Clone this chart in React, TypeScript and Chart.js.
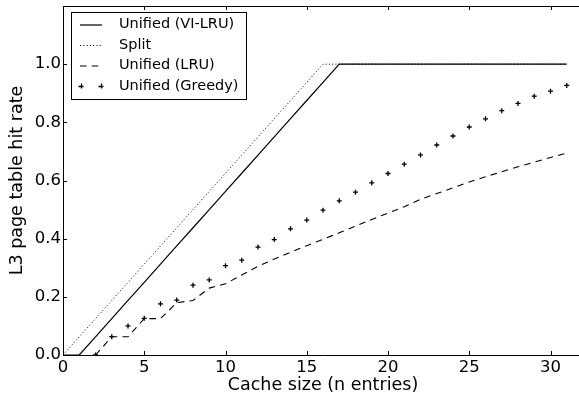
import React, { useEffect, useRef } from "react";
import { Chart, registerables } from "chart.js";

Chart.register(...registerables);

const cacheSizes = [0, 1, 2, 3, 4, 5, 6, 7, 8, 9, 10, 11, 12, 13, 14, 15, 16, 17, 18, 19, 20, 21, 22, 23, 24, 25, 26, 27, 28, 29, 30, 31];

const viLru = [0, 0, 0.0625, 0.125, 0.1875, 0.25, 0.3125, 0.375, 0.4375, 0.5, 0.5625, 0.625, 0.6875, 0.75, 0.8125, 0.875, 0.9375, 1, 1, 1, 1, 1, 1, 1, 1, 1, 1, 1, 1, 1, 1, 1];

const split = [0, 0.0625, 0.125, 0.1875, 0.25, 0.3125, 0.375, 0.4375, 0.5, 0.5625, 0.625, 0.6875, 0.75, 0.8125, 0.875, 0.9375, 1, 1, 1, 1, 1, 1, 1, 1, 1, 1, 1, 1, 1, 1, 1, 1];

const lru = [null, null, 0, 0.0625, 0.0625, 0.125, 0.125, 0.18, 0.1875, 0.23, 0.245, 0.275, 0.305, 0.33, 0.353, 0.376, 0.398, 0.42, 0.443, 0.466, 0.488, 0.51, 0.535, 0.555, 0.575, 0.595, 0.613, 0.63, 0.647, 0.663, 0.679, 0.694];

const greedy = [null, null, 0, 0.063, 0.1, 0.126, 0.176, 0.189, 0.24, 0.258, 0.307, 0.326, 0.371, 0.397, 0.434, 0.464, 0.498, 0.53, 0.56, 0.592, 0.624, 0.656, 0.688, 0.722, 0.753, 0.784, 0.812, 0.84, 0.865, 0.89, 0.907, 0.927];

const seriesLabels = ["Unified (VI-LRU)", "Split", "Unified (LRU)", "Unified (Greedy)"];

const xTicks = [0, 5, 10, 15, 20, 25, 30];
const yTicks = [0, 0.2, 0.4, 0.6, 0.8, 1.0];

const FONT = "DejaVu Sans";

const toPoints = (vals: (number | null)[]) =>
  cacheSizes.map((x, i) => ({ x, y: vals[i] }));

const frameAndLegend = {
  id: "frameAndLegend",
  afterDraw(chart: any) {
    const ctx = chart.ctx;
    const { left, right, top, bottom } = chart.chartArea;
    const xs = chart.scales.x;
    const ys = chart.scales.y;
    ctx.save();
    ctx.strokeStyle = "#000";
    ctx.lineWidth = 1;
    ctx.beginPath();
    ctx.moveTo(left, Math.round(top) + 0.5);
    ctx.lineTo(right, Math.round(top) + 0.5);
    ctx.moveTo(Math.round(right) - 0.5, top);
    ctx.lineTo(Math.round(right) - 0.5, bottom);
    ctx.stroke();
    const tl = 4;
    ctx.beginPath();
    xTicks.forEach((v) => {
      const px = Math.round(xs.getPixelForValue(v)) + 0.5;
      ctx.moveTo(px, bottom);
      ctx.lineTo(px, bottom - tl);
      ctx.moveTo(px, top);
      ctx.lineTo(px, top + tl);
    });
    yTicks.forEach((v) => {
      const py = Math.round(ys.getPixelForValue(v)) + 0.5;
      ctx.moveTo(left, py);
      ctx.lineTo(left + tl, py);
      ctx.moveTo(right, py);
      ctx.lineTo(right - tl, py);
    });
    ctx.stroke();

    const bx = 71.5, by = 12.5, bw = 175, bh = 87;
    ctx.fillStyle = "#fff";
    ctx.fillRect(bx, by, bw, bh);
    ctx.strokeRect(bx, by, bw, bh);
    const rows = [24.5, 45, 65.5, 86];
    const x0 = 80, x1 = 102;
    chart.data.datasets.forEach((ds: any, i: number) => {
      const y = rows[i];
      ctx.strokeStyle = "#000";
      ctx.lineWidth = 1;
      if (ds.showLine === false) {
        ctx.lineWidth = 1.3;
        [x0 + 1, x1 - 1].forEach((cx) => {
          ctx.beginPath();
          ctx.moveTo(cx - 2.5, y + 0.5);
          ctx.lineTo(cx + 2.5, y + 0.5);
          ctx.moveTo(cx + 0.5, y - 2.5);
          ctx.lineTo(cx + 0.5, y + 2.5);
          ctx.stroke();
        });
      } else {
        ctx.lineWidth = ds.borderWidth || 1;
        ctx.setLineDash(ds.borderDash || []);
        ctx.beginPath();
        ctx.moveTo(x0, y + 0.5);
        ctx.lineTo(x1, y + 0.5);
        ctx.stroke();
        ctx.setLineDash([]);
      }
      ctx.fillStyle = "#000";
      ctx.font = `14.5px "${FONT}"`;
      ctx.textBaseline = "middle";
      ctx.textAlign = "left";
      ctx.fillText(ds.label, 119, y);
    });
    ctx.restore();
  },
};

const zeroPadding = (s: any) => {
  s.paddingTop = 0;
  s.paddingBottom = 0;
  s.paddingLeft = 0;
  s.paddingRight = 0;
};

export default function App() {
  const ref = useRef<HTMLCanvasElement | null>(null);
  useEffect(() => {
    if (!ref.current) return;
    Chart.defaults.font.family = FONT;
    const chart = new Chart(ref.current, {
      type: "line",
      data: {
        datasets: [
          {
            label: seriesLabels[0],
            data: toPoints(viLru),
            borderColor: "#000",
            borderWidth: 1.2,
            pointRadius: 0,
            fill: false,
          },
          {
            label: seriesLabels[1],
            data: toPoints(split),
            borderColor: "#000",
            borderWidth: 1,
            borderDash: [1, 2.3],
            pointRadius: 0,
            fill: false,
          },
          {
            label: seriesLabels[2],
            data: toPoints(lru),
            borderColor: "#000",
            borderWidth: 1.1,
            borderDash: [6.5, 5.2],
            pointRadius: 0,
            fill: false,
            spanGaps: false,
          },
          {
            label: seriesLabels[3],
            data: toPoints(greedy),
            borderColor: "#000",
            borderWidth: 1,
            showLine: false,
            pointStyle: "cross",
            pointRadius: 2.5,
            pointBorderWidth: 1.3,
            pointBorderColor: "#000",
            fill: false,
          },
        ],
      },
      options: {
        responsive: false,
        animation: false,
        devicePixelRatio: 1,
        layout: { padding: { left: 0, right: 7, top: 6, bottom: 0 } },
        plugins: {
          legend: { display: false },
          tooltip: { enabled: false },
        },
        scales: {
          x: {
            type: "linear",
            min: 0,
            max: 32,
            grid: { display: false, drawTicks: false },
            border: { display: true, color: "#000", width: 1 },
            afterBuildTicks: (s: any) => {
              s.ticks = xTicks.map((v) => ({ value: v }));
            },
            afterFit: (s: any) => {
              s.height = 42;
              zeroPadding(s);
            },
            ticks: {
              color: "#000",
              font: { size: 16.5 },
              padding: 3,
              maxRotation: 0,
              callback: (v: any) => String(v),
            },
            title: {
              display: true,
              text: "Cache size (n entries)",
              color: "#000",
              font: { size: 17.5 },
              padding: { top: 0, bottom: 1 },
            },
          },
          y: {
            type: "linear",
            min: 0,
            max: 1.2,
            grid: { display: false, drawTicks: false },
            border: { display: true, color: "#000", width: 1 },
            afterBuildTicks: (s: any) => {
              s.ticks = yTicks.map((v) => ({ value: v }));
            },
            afterFit: (s: any) => {
              s.width = 63;
              zeroPadding(s);
            },
            ticks: {
              color: "#000",
              font: { size: 16.5 },
              padding: 2,
              callback: (v: any) => Number(v).toFixed(1),
            },
            title: {
              display: true,
              text: "L3 page table hit rate",
              color: "#000",
              font: { size: 17.5 },
              padding: { top: 7, bottom: 0 },
            },
          },
        },
      },
      plugins: [frameAndLegend],
    });
    return () => chart.destroy();
  }, []);
  return (
    <div
      style={{
        position: "fixed",
        left: 0,
        top: 0,
        width: 579,
        height: 397,
        overflow: "hidden",
        background: "#fff",
      }}
    >
      <canvas ref={ref} width={590} height={397} style={{ display: "block" }} />
    </div>
  );
}
